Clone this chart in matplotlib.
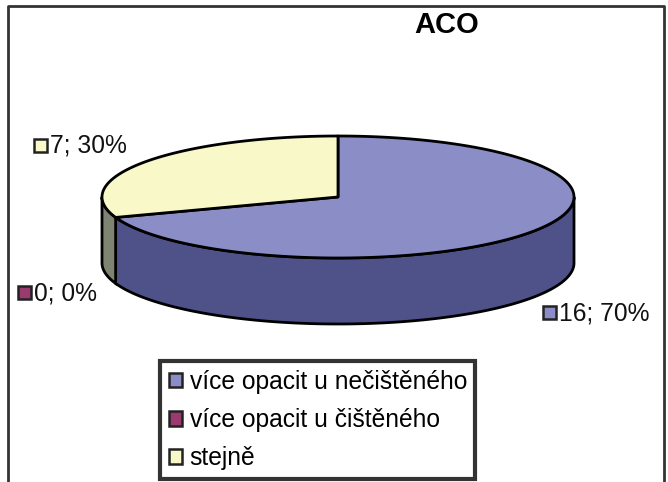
import matplotlib.pyplot as plt
import numpy as np
from matplotlib.patches import Polygon, Rectangle, Patch

# data
categories = ["více opacit u nečištěného", "více opacit u čištěného", "stejně"]
values = [16, 0, 7]
percents = [70, 0, 30]
top_colors = ["#8b8ec6", "#9a3a6e", "#f8f8c8"]
side_colors = ["#4f5289", "#5a2040", "#7f8472"]
title = "ACO"

plt.rcParams['font.family'] = ['Liberation Sans', 'DejaVu Sans']

W, H = 668, 482
fig = plt.figure(figsize=(W / 100, H / 100), dpi=100)
ax = fig.add_axes([0, 0, 1, 1])
ax.set_xlim(0, W)
ax.set_ylim(H, 0)
ax.axis('off')

# outer frame (no bottom edge)
ax.plot([8, 8, 664, 664], [H, 6, 6, H], color="#333333", lw=2, solid_capstyle='butt')

# pie geometry (pixels)
cx, cy = 338, 197
a, b = 236, 61
depth = 66


def pt(t, dy=0):
    r = np.radians(t)
    return cx + a * np.cos(r), cy - b * np.sin(r) + dy


def arc(t0, t1, dy=0, n=200):
    ts = np.linspace(t0, t1, n)
    return [pt(t, dy) for t in ts]


# slice angles: start at top, go clockwise
total = sum(values)
angles = []
start = 90.0
for v in values:
    end = start - 360.0 * v / total
    angles.append((start, end))
    start = end

# front sides (parametric angle range -180..0 is the visible front)
for (s, e), col in zip(angles, side_colors):
    if s == e:
        continue
    for shift in (0, -360, 360):
        h2 = min(s + shift, 0)
        l2 = max(e + shift, -180)
        if h2 > l2:
            top = arc(l2, h2)
            bot = arc(h2, l2, depth)
            ax.add_patch(Polygon(top + bot, closed=True, fc=col, ec='black', lw=2, zorder=2))

# top faces
for (s, e), col in zip(angles, top_colors):
    if s == e:
        continue
    poly = [(cx, cy)] + arc(e, s)
    ax.add_patch(Polygon(poly, closed=True, fc=col, ec='black', lw=2, joinstyle='round', zorder=3))

# data labels with colour markers
label_pos = [(543, 313), (18, 293), (34, 146)]
fs = 17.7
for i, (x, y) in enumerate(label_pos):
    ax.add_patch(Rectangle((x, y - 7), 13, 13, fc=top_colors[i], ec='#222222', lw=1.8, zorder=4))
    ax.text(x + 16, y, f"{values[i]}; {percents[i]}%", fontsize=fs, va='center', ha='left', color='#111111')

ax.text(447, 25, title, fontsize=21, fontweight='bold', ha='center', va='center')

handles = [Patch(fc=c, ec='#222222', lw=1.8) for c in top_colors]
leg = fig.legend(handles, categories, loc='upper left',
                 bbox_to_anchor=(160 / W, 1 - 361 / H), fontsize=fs,
                 frameon=True, fancybox=False, borderaxespad=0,
                 handlelength=0.55, handleheight=0.55, handletextpad=0.3,
                 labelspacing=0.58, borderpad=0.35)
leg.get_frame().set_edgecolor('black')
leg.get_frame().set_linewidth(3)

fig.savefig("out.png", dpi=100)
